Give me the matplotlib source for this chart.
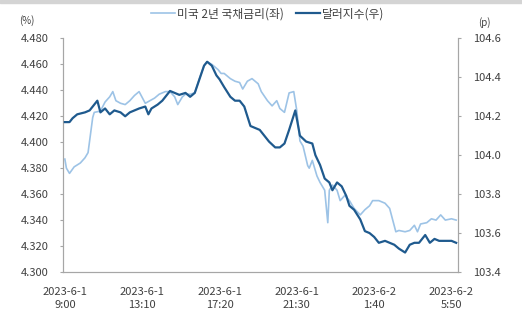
import matplotlib.pyplot as plt
import numpy as np
from matplotlib.ticker import FormatStrFormatter

plt.rcParams["font.family"] = ["Noto Sans CJK KR", "DejaVu Sans"]

# minutes after 2023-6-1 9:00
yield_t = [0, 5, 15, 30, 50, 65, 75, 80, 90, 95, 115, 130, 145, 155, 165, 180, 195,
           210, 225, 240, 260, 275, 290, 305, 325, 340, 355, 365, 380, 390, 405, 420,
           435, 450, 460, 475, 495, 505, 515, 535, 550, 565, 575, 590, 605, 625, 635,
           655, 670, 685, 695, 710, 725, 740, 750, 760, 770, 785, 790, 800, 815, 825,
           840, 850, 855, 865, 880, 890, 905, 920, 935, 955, 970, 985, 995, 1015, 1035,
           1050, 1060, 1070, 1080, 1100, 1115, 1130, 1140, 1150, 1170, 1185, 1200, 1215,
           1230, 1250, 1265]
us2y = [4.387, 4.380, 4.376, 4.381, 4.384, 4.388, 4.392, 4.401, 4.419, 4.423, 4.424,
        4.431, 4.435, 4.439, 4.432, 4.430, 4.429, 4.432, 4.436, 4.439, 4.430, 4.432,
        4.434, 4.437, 4.439, 4.439, 4.435, 4.429, 4.435, 4.437, 4.437, 4.438, 4.449,
        4.459, 4.462, 4.460, 4.456, 4.453, 4.453, 4.449, 4.447, 4.446, 4.441, 4.447,
        4.449, 4.445, 4.439, 4.432, 4.428, 4.432, 4.426, 4.423, 4.438, 4.439, 4.424,
        4.401, 4.397, 4.382, 4.380, 4.386, 4.374, 4.369, 4.363, 4.338, 4.363, 4.367,
        4.363, 4.355, 4.359, 4.355, 4.349, 4.344, 4.348, 4.351, 4.355, 4.355, 4.353,
        4.349, 4.340, 4.331, 4.332, 4.331, 4.332, 4.336, 4.331, 4.337, 4.338, 4.341,
        4.340, 4.344, 4.340, 4.341, 4.340]

dxy_t = [0, 15, 25, 40, 65, 80, 105, 115, 130, 145, 160, 180, 195, 210, 225, 240, 260,
         270, 280, 300, 315, 340, 355, 370, 390, 405, 420, 435, 450, 460, 475, 490, 500,
         515, 535, 550, 565, 580, 600, 615, 630, 645, 660, 680, 695, 710, 725, 745, 760,
         780, 800, 810, 825, 840, 855, 865, 880, 895, 910, 920, 935, 955, 970, 985, 1000,
         1015, 1035, 1050, 1065, 1080, 1100, 1115, 1130, 1145, 1165, 1180, 1195, 1210,
         1225, 1250, 1265]
dxy = [104.17, 104.17, 104.19, 104.21, 104.22, 104.23, 104.28, 104.22, 104.24, 104.21,
       104.23, 104.22, 104.20, 104.22, 104.23, 104.24, 104.25, 104.21, 104.24, 104.26,
       104.28, 104.33, 104.32, 104.31, 104.32, 104.30, 104.32, 104.39, 104.46, 104.48,
       104.46, 104.41, 104.39, 104.35, 104.30, 104.28, 104.28, 104.25, 104.15, 104.14,
       104.13, 104.10, 104.07, 104.04, 104.04, 104.06, 104.13, 104.23, 104.10, 104.07,
       104.06, 104.00, 103.95, 103.88, 103.86, 103.82, 103.86, 103.84, 103.79, 103.74,
       103.72, 103.67, 103.61, 103.60, 103.58, 103.55, 103.56, 103.55, 103.54, 103.52,
       103.50, 103.54, 103.55, 103.55, 103.59, 103.55, 103.57, 103.56, 103.56, 103.56,
       103.55]

tick_t = [0, 250, 500, 750, 1000, 1250]
tick_labels = ["2023-6-1\n9:00", "2023-6-1\n13:10", "2023-6-1\n17:20",
               "2023-6-1\n21:30", "2023-6-2\n1:40", "2023-6-2\n5:50"]

light = "#9DC3E6"
dark = "#1F5A8E"
grey = "#A6A6A6"
txt = "#404040"

fig = plt.figure(figsize=(5.22, 3.2), dpi=100)
fig.patches.append(plt.Rectangle((0, 0.99), 1, 0.01, transform=fig.transFigure,
                                 color="#D4D4D4", zorder=0))
ax = fig.add_axes([0.1207, 0.15, 0.7567, 0.73])
ax2 = ax.twinx()

l1, = ax.plot(yield_t, us2y, color=light, lw=1.2, zorder=2)
l2, = ax2.plot(dxy_t, dxy, color=dark, lw=1.6, zorder=3)

ax.set_xlim(-6, 1271)
ax.set_ylim(4.300, 4.480)
ax.set_yticks(np.arange(4.300, 4.4801, 0.02))
ax.yaxis.set_major_formatter(FormatStrFormatter("%.3f"))
ax2.set_ylim(103.4, 104.6)
ax2.set_yticks(np.arange(103.4, 104.61, 0.2))
ax2.yaxis.set_major_formatter(FormatStrFormatter("%.1f"))
ax.set_xticks(tick_t)
ax.set_xticklabels(tick_labels, linespacing=1.3)

for a in (ax, ax2):
    a.spines["top"].set_visible(False)
    for s in ("left", "right", "bottom"):
        a.spines[s].set_color(grey)
        a.spines[s].set_linewidth(0.8)
    a.tick_params(axis="y", colors=grey, length=2.5, width=0.8, labelsize=8,
                  labelcolor=txt, pad=8)
ax.tick_params(axis="x", length=0, labelsize=8, labelcolor=txt, pad=11)

fig.text(0.051, 0.936, "(%)", fontsize=7, color=txt, ha="center", va="center")
fig.text(0.927, 0.93, "(p)", fontsize=7, color=txt, ha="center", va="center")

fig.legend([l1, l2], ["미국 2년 국채금리(좌)", "달러지수(우)"], loc="center",
           bbox_to_anchor=(0.513, 0.956), ncol=2, frameon=False, fontsize=8.5,
           handlelength=2.0, columnspacing=1.0, handletextpad=0.2,
           labelcolor=txt)

fig.savefig("out.png", dpi=100)
